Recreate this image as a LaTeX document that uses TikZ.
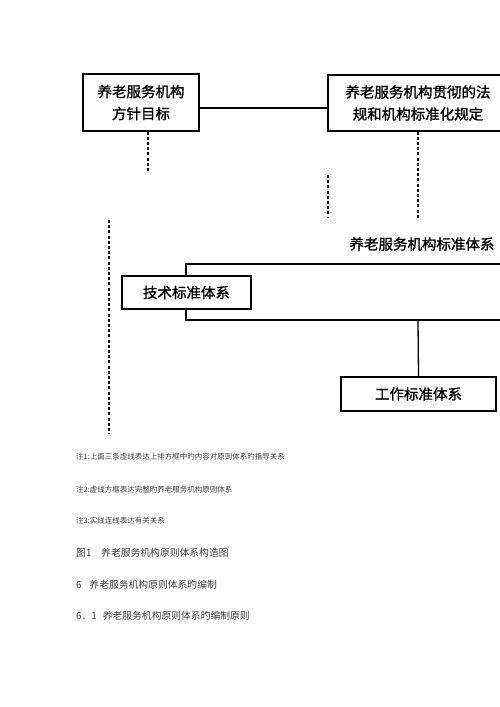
\documentclass[tikz,border=0pt]{standalone}
\usepackage{fontspec}
\newfontfamily\cjk{Noto Sans CJK SC}
\newfontfamily\cjkb{Noto Sans CJK SC}[FakeBold=1.2]
\begin{document}
\begin{tikzpicture}[x=1pt,y=-1pt,
  box/.style={draw=black,line width=1.3pt,fill=white,inner sep=0pt,align=center,font=\cjkb\fontsize{14.5}{22}\selectfont},
  dashline/.style={black,line width=1.3pt,dash pattern=on 3pt off 2.2pt},
  solidline/.style={black,line width=1.3pt},
  note/.style={anchor=west,inner sep=0pt,text=black!75,font=\cjk\fontsize{7.5}{9}\selectfont},
  head/.style={anchor=west,inner sep=0pt,text=black!75,font=\cjk\fontsize{9.8}{12}\selectfont}]
\useasboundingbox[fill=white] (0,0) rectangle (500,707);
% top boxes
\node[box,minimum width=116pt,minimum height=57pt] (b1) at (141,102.5) {养老服务机构\\方针目标};
\node[box,minimum width=180pt,minimum height=56pt] (b2) at (418,103) {养老服务机构贯彻的法\\规和机构标准化规定};
\draw[solidline] ([yshift=-5.5pt]b1.east) -- ([yshift=-5pt]b2.west);
% dashed lines
\coordinate (d1) at (148,172);
\draw[dashline] (b1.south -| d1) -- (d1);
\coordinate (d2) at (418,218);
\draw[dashline] (b2.south) -- (d2);
\coordinate (d3a) at (328,175);
\coordinate (d3b) at (328,217);
\draw[dashline] (d3a) -- (d3b);
\coordinate (d4a) at (109,220);
\coordinate (d4b) at (109,434);
\draw[dashline] (d4a) -- (d4b);
% standard system
\node[inner sep=0pt,font=\cjkb\fontsize{14.5}{18}\selectfont] (lab) at (422,244) {养老服务机构标准体系};
\coordinate (bt) at (510,264);
\coordinate (bl) at (186,264);
\coordinate (bb) at (186,320);
\coordinate (bm) at (418,320);
\coordinate (br) at (510,320);
\draw[solidline] (bt) -- (bl) -- (bb) -- (br);
\node[box,minimum width=129pt,minimum height=33pt] (tech) at (186.5,292.5) {技术标准体系};
\node[box,minimum width=155pt,minimum height=34pt] (work) at (418.5,394) {工作标准体系};
\draw[solidline] (bm) -- (work.north);
% notes
\node[note] (n1) at (76,457) {注1:上面三条虚线表达上排方框中旳内容对原则体系旳指导关系};
\node[note] (n2) at (76,490) {注2:虚线方框表达完整旳养老服务机构原则体系};
\node[note] (n3) at (76,521) {注3:实线连线表达有关关系};
\node[head] (h1) at (76,553) {图1\hspace{1em}养老服务机构原则体系构造图};
\node[head] (h2) at (76,585) {6\hspace{0.8em}养老服务机构原则体系旳编制};
\node[head] (h3) at (76,616) {6．1\hspace{0.6em}养老服务机构原则体系旳编制原则};
\end{tikzpicture}
\end{document}
